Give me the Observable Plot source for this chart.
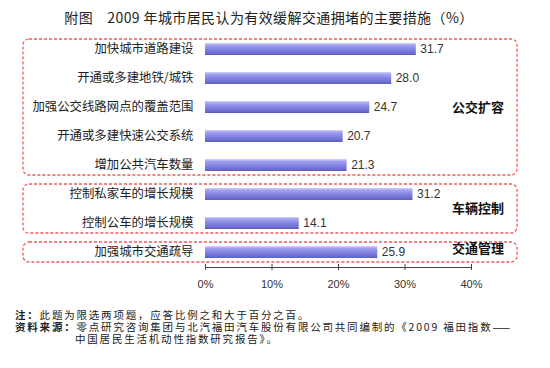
<!DOCTYPE html>
<html><head><meta charset="utf-8">
<script src="https://cdn.jsdelivr.net/npm/d3@7"></script>
<script src="https://cdn.jsdelivr.net/npm/@observablehq/plot@0.6"></script>
<style>
body{margin:0;background:#fff;}
#wrap{position:relative;width:550px;height:368px;overflow:hidden;font-family:"Noto Sans CJK SC",sans-serif;}
#title{height:33px;line-height:34px;text-align:center;font-size:14px;letter-spacing:0.4px;color:#222;padding-right:12px;white-space:nowrap;}
#notes{position:absolute;left:15px;top:309px;width:540px;font-size:10.5px;line-height:12px;letter-spacing:1.8px;color:#222;white-space:nowrap;}
#notes b{font-weight:bold;}
#notes .ind{padding-left:60px;}
</style>
</head><body>
<div id="wrap">
<div id="title">附图&nbsp;&nbsp;&nbsp;&nbsp;2009 年城市居民认为有效缓解交通拥堵的主要措施（%）</div>
<div id="chart"></div>
<div id="notes">
<div><b>注：</b>此题为限选两项题，应答比例之和大于百分之百。</div>
<div><b>资料来源：</b>零点研究咨询集团与北汽福田汽车股份有限公司共同编制的《2009 福田指数——</div>
<div class="ind">中国居民生活机动性指数研究报告》。</div>
</div>
</div>
<script>
const categories = ["加快城市道路建设","开通或多建地铁/城铁","加强公交线路网点的覆盖范围","开通或多建快速公交系统","增加公共汽车数量","控制私家车的增长规模","控制公车的增长规模","加强城市交通疏导"];
const values = [31.7, 28.0, 24.7, 20.7, 21.3, 31.2, 14.1, 25.9];
const groupOf = ["公交扩容","公交扩容","公交扩容","公交扩容","公交扩容","车辆控制","车辆控制","交通管理"];
const groupNames = ["公交扩容","车辆控制","交通管理"];
const xTicks = [0, 10, 20, 30, 40];

const data = categories.map((c, i) => ({cat: c, value: values[i], group: groupOf[i]}));

const H = 267;
const chart = Plot.plot({
  width: 550, height: H,
  marginLeft: 205, marginRight: 79, marginTop: 0, marginBottom: H - 234,
  style: {fontFamily: "'Noto Sans CJK SC', sans-serif", background: "transparent"},
  x: {domain: [0, 40]},
  y: {domain: categories, paddingInner: 0.6, paddingOuter: 0.276},
  marks: [
    Plot.barX(data, {x: "value", y: "cat", fill: "url(#barGrad)"}),
    Plot.text(data, {x: "value", y: "cat", text: d => d.value.toFixed(1), textAnchor: "start", dx: 4, fontSize: 12, fill: "#333", fontFamily: "'Liberation Sans', Arial, sans-serif"}),
    Plot.axisY({tickSize: 0, tickPadding: 12, fontSize: 12.4, fill: "#222", label: null}),
    Plot.frame({anchor: "bottom", stroke: "#444"}),
    Plot.axisX({ticks: xTicks, tickFormat: d => d + "%", tickSize: 6, dy: -3, tickPadding: 10, fontSize: 11, fill: "#333", stroke: "#444", label: null, fontFamily: "'Liberation Sans', Arial, sans-serif"})
  ]
});
document.getElementById("chart").appendChild(chart);

const svg = d3.select(chart);
const defs = svg.insert("defs", ":first-child");
const g = defs.append("linearGradient").attr("id", "barGrad").attr("x1", 0).attr("y1", 0).attr("x2", 0).attr("y2", 1);
[[0, "#d4d4fa"], [0.2, "#a0a0f0"], [0.55, "#8282e2"], [0.85, "#6c6cd2"], [1, "#5a5ab8"]].forEach(([o, c]) => g.append("stop").attr("offset", o).attr("stop-color", c));

const ys = chart.scale("y");
const bw = ys.bandwidth;
const boxG = svg.append("g");
groupNames.forEach(name => {
  const cats = data.filter(d => d.group === name).map(d => d.cat);
  const top = ys.apply(cats[0]) - 4;
  const bottom = ys.apply(cats[cats.length - 1]) + bw + 4;
  boxG.append("rect").attr("x", 23).attr("y", top).attr("width", 494).attr("height", bottom - top)
    .attr("rx", 6).attr("fill", "none").attr("stroke", "#f25a5a").attr("stroke-width", 1.3).attr("stroke-dasharray", "3,2");
  const cy = (top + bottom) / 2 + (cats.length === 1 ? -4 : 0);
  boxG.append("text").attr("x", 478).attr("y", cy).attr("text-anchor", "middle").attr("dy", "0.35em")
    .attr("font-size", 13).attr("font-weight", "bold").attr("fill", "#111").text(name);
});
</script>
</body></html>
